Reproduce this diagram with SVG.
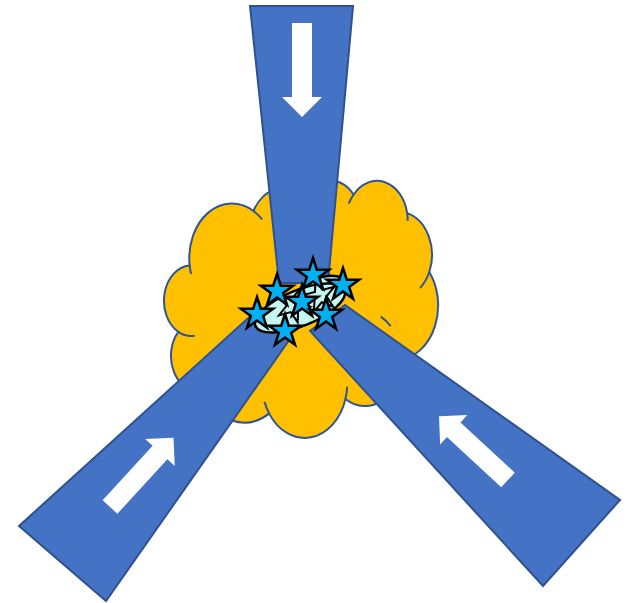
<svg xmlns="http://www.w3.org/2000/svg" width="631" height="603" viewBox="0 0 631 603">
  <style>
    .cloud { fill: #FFC000; stroke: #2F5597; stroke-width: 2; }
    .inner { fill: none; stroke: #2F5597; stroke-width: 2; }
    .arm { fill: #4472C4; stroke: #2F528F; stroke-width: 2; stroke-linejoin: miter; }
    .arrow { fill: #FFFFFF; stroke: none; }
    .blob { fill: #C6F6F0; stroke: #000000; stroke-width: 2.5; }
    .ghost { fill: #C6F6F0; stroke: #000000; stroke-width: 2; stroke-linejoin: miter; }
    .star { fill: #00B0F0; stroke: #000000; stroke-width: 2.5; stroke-linejoin: miter; }
  </style>
  <defs>
    <path id="arrowShape" d="M0,-10 H74 V-20 L94,0 L74,20 V10 H0 Z"/>
    <path id="starShape" d="M0,-17 L3.82,-5.26 L16.17,-5.25 L6.18,2.01 L9.99,13.75 L0,6.5 L-9.99,13.75 L-6.18,2.01 L-16.17,-5.25 L-3.82,-5.26 Z"/>
  </defs>

  <g id="cloud" transform="translate(165,180) scale(0.0063194,0.0059491)">
    <path class="cloud" vector-effect="non-scaling-stroke" d="M3900,14370 A6753,9190 0 0 1 14005,5202 A5333,7267 0 0 1 22459,3432 A4365,5945 0 0 1 29836,2480 A4857,6595 0 0 1 38321,5576 A5333,7273 0 0 1 41821,15459 A6775,9220 0 0 1 37407,30203 A5785,7867 0 0 1 28558,36813 A6752,9215 0 0 1 16484,39266 A7720,10543 0 0 1 5808,35473 A4360,5936 0 0 1 2110,25530 A4345,5945 0 0 1 3900,14370 Z"/>
    <path class="inner" vector-effect="non-scaling-stroke" d="M4127,15789 A6753,9190 0 0 1 3900,14370 M14005,5202 A6753,9190 0 0 1 15366,6633 M22141,4720 A4365,5945 0 0 1 22459,3432 M29078,3952 A4857,6595 0 0 1 29836,2480 M38321,5576 A4857,6595 0 0 1 38398,6838 M41821,15459 A5333,7273 0 0 1 40348,18165 M34129,22954 A5785,7867 0 0 1 35713,24577 M28827,34751 A6752,9215 0 0 1 28558,36813 M16484,39266 A6752,9215 0 0 1 15751,37295 M6928,34899 A4360,5936 0 0 1 5808,35473 M4693,26177 A4345,5945 0 0 1 2110,25530"/>
  </g>

  <g id="arm-top">
    <polygon class="arm" points="250,6 353,6 328,283 279,283"/>
    <use href="#arrowShape" class="arrow" transform="translate(302,23) rotate(90)"/>
  </g>
  <g id="arm-left">
    <polygon class="arm" points="19,526 106,601 292,336 256,311"/>
    <use href="#arrowShape" class="arrow" transform="translate(110,507) rotate(-47.5)"/>
  </g>
  <g id="arm-right">
    <polygon class="arm" points="620,500 543,586 310,331 345,305"/>
    <use href="#arrowShape" class="arrow" transform="translate(508,480) rotate(-137.2)"/>
  </g>

  <g id="core">
    <ellipse class="blob" cx="324" cy="291" rx="24" ry="14" transform="rotate(-18 324 291)"/>
    <ellipse class="blob" cx="300" cy="308" rx="48" ry="18" transform="rotate(-22 300 308)"/>
    <use href="#starShape" class="ghost" transform="translate(293,306) rotate(20)"/>
    <use href="#starShape" class="ghost" transform="translate(320,296) rotate(-15)"/>
  </g>

  <g id="stars">
    <use href="#starShape" class="star" transform="translate(313,275)"/>
    <use href="#starShape" class="star" transform="translate(343,285)"/>
    <use href="#starShape" class="star" transform="translate(277,291)"/>
    <use href="#starShape" class="star" transform="translate(302,302)"/>
    <use href="#starShape" class="star" transform="translate(326,315)"/>
    <use href="#starShape" class="star" transform="translate(257,314)"/>
    <use href="#starShape" class="star" transform="translate(285,331)"/>
  </g>
</svg>
